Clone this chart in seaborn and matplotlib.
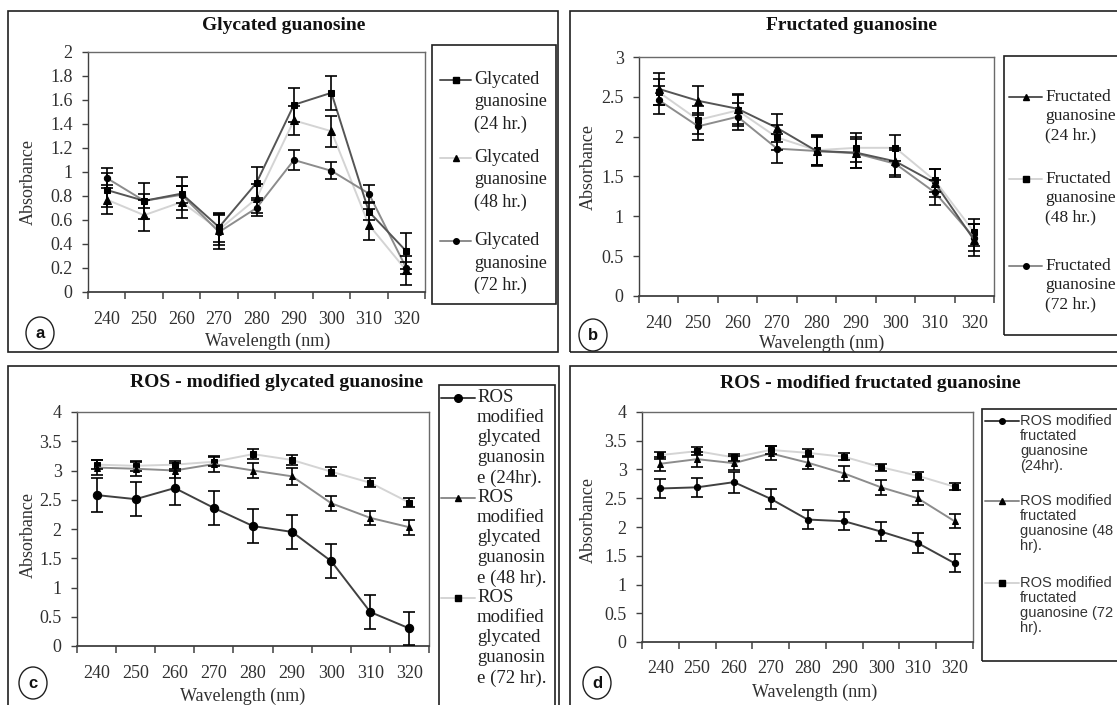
import numpy as np
import pandas as pd
import matplotlib
matplotlib.use("Agg")
import matplotlib.pyplot as plt
import seaborn as sns
from matplotlib.patches import Rectangle, Ellipse
from matplotlib.lines import Line2D

# ---------------- data ----------------
wavelengths = [240, 250, 260, 270, 280, 290, 300, 310, 320]

glyc_24 = [0.85, 0.76, 0.82, 0.54, 0.91, 1.56, 1.66, 0.67, 0.34]
glyc_24_err = [0.14, 0.15, 0.14, 0.12, 0.13, 0.14, 0.14, 0.07, 0.15]
glyc_48 = [0.77, 0.64, 0.75, 0.52, 0.78, 1.43, 1.34, 0.56, 0.18]
glyc_48_err = [0.12, 0.13, 0.13, 0.13, 0.12, 0.12, 0.13, 0.13, 0.12]
glyc_72 = [0.95, 0.76, 0.81, 0.50, 0.70, 1.10, 1.01, 0.82, 0.20]
glyc_72_err = [0.08, 0.06, 0.07, 0.14, 0.07, 0.08, 0.07, 0.07, 0.05]

fruc_24 = [2.60, 2.45, 2.35, 2.11, 1.82, 1.80, 1.69, 1.42, 0.70]
fruc_24_err = [0.20, 0.18, 0.19, 0.18, 0.19, 0.19, 0.17, 0.18, 0.20]
fruc_48 = [2.56, 2.21, 2.33, 1.99, 1.83, 1.86, 1.86, 1.45, 0.80]
fruc_48_err = [0.16, 0.18, 0.19, 0.16, 0.19, 0.18, 0.16, 0.15, 0.17]
fruc_72 = [2.46, 2.13, 2.25, 1.85, 1.82, 1.79, 1.66, 1.30, 0.73]
fruc_72_err = [0.17, 0.17, 0.17, 0.18, 0.17, 0.18, 0.17, 0.16, 0.17]

ros_glyc_24 = [2.58, 2.51, 2.70, 2.36, 2.05, 1.95, 1.45, 0.58, 0.30]
ros_glyc_24_err = [0.29, 0.29, 0.29, 0.29, 0.29, 0.29, 0.29, 0.29, 0.28]
ros_glyc_48 = [3.05, 3.03, 3.00, 3.11, 3.00, 2.90, 2.44, 2.19, 2.03]
ros_glyc_48_err = [0.13, 0.12, 0.13, 0.13, 0.13, 0.14, 0.13, 0.12, 0.13]
ros_glyc_72 = [3.10, 3.08, 3.10, 3.15, 3.28, 3.18, 2.98, 2.79, 2.45]
ros_glyc_72_err = [0.08, 0.08, 0.07, 0.08, 0.08, 0.08, 0.08, 0.08, 0.08]

ros_fruc_24 = [2.67, 2.69, 2.78, 2.49, 2.13, 2.10, 1.92, 1.72, 1.37]
ros_fruc_24_err = [0.16, 0.17, 0.18, 0.17, 0.16, 0.16, 0.16, 0.17, 0.16]
ros_fruc_48 = [3.10, 3.18, 3.11, 3.28, 3.12, 2.93, 2.69, 2.50, 2.10]
ros_fruc_48_err = [0.12, 0.13, 0.12, 0.12, 0.12, 0.13, 0.13, 0.12, 0.12]
ros_fruc_72 = [3.25, 3.32, 3.21, 3.34, 3.29, 3.22, 3.04, 2.89, 2.70]
ros_fruc_72_err = [0.06, 0.07, 0.06, 0.07, 0.07, 0.06, 0.06, 0.07, 0.06]

titles = ["Glycated guanosine", "Fructated guanosine",
          "ROS - modified glycated guanosine", "ROS - modified fructated guanosine"]
panel_letters = ["a", "b", "c", "d"]

# ---------------- style ----------------
sns.set_style("white")
plt.rcParams["font.family"] = ["Liberation Serif", "DejaVu Serif"]

W, H = 1117, 705
fig = plt.figure(figsize=(W / 100, H / 100), dpi=100)
fig.patch.set_facecolor("white")

DARK = "#404040"
MID = "#8c8c8c"
LIGHT = "#d4d4d4"
TXT = "#303030"


def fx(x):
    return x / W


def fy(y):
    return 1 - y / H


def add_ax(x0, y0, x1, y1):
    return fig.add_axes([fx(x0), fy(y1), (x1 - x0) / W, (y1 - y0) / H])


def box(x0, y0, x1, y1, lw=1.2):
    fig.add_artist(Rectangle((fx(x0), fy(y1)), (x1 - x0) / W, (y1 - y0) / H,
                             transform=fig.transFigure, fill=False,
                             edgecolor="#202020", linewidth=lw, clip_on=False))


def draw_series(ax, vals, errs, color, marker, ms):
    pos = np.arange(len(wavelengths))
    df = pd.DataFrame({"pos": pos, "val": vals})
    sns.lineplot(data=df, x="pos", y="val", ax=ax, color=color, linewidth=1.4,
                 marker=marker, markersize=ms, markerfacecolor="black",
                 markeredgecolor="black", legend=False, zorder=3)
    ax.errorbar(pos, vals, yerr=errs, fmt="none", ecolor="black",
                elinewidth=1.2, capsize=4.5, capthick=1.2, zorder=4)


def style_axes(ax, rect, ymax, ystep, ylabels, title, title_c, xlab_c, ylab_c,
               xlab_pad):
    x0, y0, x1, y1 = rect
    n = len(wavelengths)
    ax.set_xlim(-0.5, n - 0.5)
    ax.set_ylim(0, ymax)
    ax.set_xticks(np.arange(-0.5, n, 1.0))
    ax.set_xticklabels([])
    ax.set_xticks(np.arange(n), minor=True)
    ax.set_xticklabels([str(w) for w in wavelengths], minor=True)
    ax.tick_params(axis="x", which="major", direction="out", length=5,
                   width=1.1, color=DARK, bottom=True)
    ax.tick_params(axis="x", which="minor", length=0, pad=xlab_pad,
                   labelsize=13, labelcolor=TXT)
    ax.set_yticks(np.arange(0, ymax + 1e-9, ystep))
    ax.set_yticklabels(ylabels)
    ax.tick_params(axis="y", direction="out", length=4, width=1.0,
                   color=DARK, left=True, pad=7, labelsize=13, labelcolor=TXT)
    for s in ax.spines.values():
        s.set_color("#6a6a6a")
        s.set_linewidth(1.0)
    ax.spines["left"].set_color(DARK)
    ax.spines["bottom"].set_color(DARK)
    ax.spines["bottom"].set_linewidth(1.3)
    ax.grid(False)
    ax.set_xlabel("Wavelength (nm)", fontsize=13, color=TXT)
    ax.xaxis.set_label_coords((xlab_c[0] - x0) / (x1 - x0),
                              (y1 - xlab_c[1]) / (y1 - y0))
    ax.xaxis.label.set_verticalalignment("center")
    ax.set_ylabel("Absorbance", fontsize=13, color=TXT)
    ax.yaxis.set_label_coords((ylab_c[0] - x0) / (x1 - x0),
                              (y1 - ylab_c[1]) / (y1 - y0))
    ax.yaxis.label.set_verticalalignment("center")
    ax.set_title(title, fontsize=14, fontweight="bold", color="#111111",
                 x=(title_c[0] - x0) / (x1 - x0),
                 y=(y1 - title_c[1]) / (y1 - y0), va="center")


def letter(cx, cy, t):
    fig.add_artist(Ellipse((fx(cx), fy(cy)), 28 / W, 32 / H,
                           transform=fig.transFigure, fill=False,
                           edgecolor="#202020", linewidth=1.0))
    fig.text(fx(cx), fy(cy), t, ha="center", va="center", fontsize=12,
             fontweight="bold", family=["Liberation Sans", "DejaVu Sans"],
             color="#111111")


def legend(bx, handle_x, text_x, entries, fontsize, family, color="#202020"):
    box(*bx)
    for lines, yl, col, mk, ms in entries:
        fig.add_artist(Line2D([fx(handle_x[0]), fx(handle_x[1])],
                              [fy(yl[0]), fy(yl[0])], transform=fig.transFigure,
                              color=col, linewidth=1.4))
        fig.add_artist(Line2D([fx((handle_x[0] + handle_x[1]) / 2)], [fy(yl[0])],
                              transform=fig.transFigure, marker=mk,
                              markersize=ms, color="black", linestyle="none"))
        for ln, y in zip(lines, yl):
            fig.text(fx(text_x), fy(y), ln, ha="left", va="center",
                     fontsize=fontsize, family=family, color=color)


# ---------------- panel boxes ----------------
box(8, 11, 558, 352)
box(570, 11, 1125, 352)
box(8, 366, 559, 712)
box(570, 366, 1125, 712)

# ---------------- panel a ----------------
ra = (88, 52, 425, 292)
ax = add_ax(*ra)
draw_series(ax, glyc_48, glyc_48_err, LIGHT, "^", 5.5)
draw_series(ax, glyc_72, glyc_72_err, MID, "o", 4.5)
draw_series(ax, glyc_24, glyc_24_err, "#555555", "s", 5)
style_axes(ax, ra, 2, 0.2, ["0", "0.2", "0.4", "0.6", "0.8", "1", "1.2", "1.4",
                            "1.6", "1.8", "2"],
           titles[0], (284, 34), (268, 341), (28, 182), 13.5)
legend((432, 45, 556, 304), (440, 471), 474,
       [(["Glycated", "guanosine", "(24 hr.)"], [80, 102, 124], "#555555", "s", 4.5),
        (["Glycated", "guanosine", "(48 hr.)"], [158, 180, 202], LIGHT, "^", 5),
        (["Glycated", "guanosine", "(72 hr.)"], [241, 263, 285], MID, "o", 4)],
       13, ["Liberation Serif"])
letter(40, 333, panel_letters[0])

# ---------------- panel b ----------------
rb = (639, 57, 994, 296)
ax = add_ax(*rb)
draw_series(ax, fruc_48, fruc_48_err, LIGHT, "s", 5)
draw_series(ax, fruc_72, fruc_72_err, MID, "o", 4.5)
draw_series(ax, fruc_24, fruc_24_err, "#555555", "^", 5.5)
style_axes(ax, rb, 3, 0.5, ["0", "0.5", "1", "1.5", "2", "2.5", "3"],
           titles[1], (851, 34), (822, 343), (588, 167), 14)
legend((1004, 56, 1125, 335), (1009, 1042), 1045,
       [(["Fructated", "guanosine", "(24 hr.)"], [97, 116, 135], "#555555", "^", 5),
        (["Fructated", "guanosine", "(48 hr.)"], [179, 198, 217], LIGHT, "s", 4.5),
        (["Fructated", "guanosine", "(72 hr.)"], [266, 285, 304], MID, "o", 4)],
       12.5, ["Liberation Serif"])
letter(593, 335, panel_letters[1])

# ---------------- panel c ----------------
rc = (77, 412, 429, 646)
ax = add_ax(*rc)
draw_series(ax, ros_glyc_72, ros_glyc_72_err, LIGHT, "s", 5)
draw_series(ax, ros_glyc_48, ros_glyc_48_err, MID, "^", 5)
draw_series(ax, ros_glyc_24, ros_glyc_24_err, DARK, "o", 6)
style_axes(ax, rc, 4, 0.5, ["0", "0.5", "1", "1.5", "2", "2.5", "3", "3.5", "4"],
           titles[2], (277, 391), (243, 696), (28, 535), 14)
yc = [398 + 20 * k for k in range(15)]
legend((439, 385, 555, 720), (441, 475), 477,
       [(["ROS", "modified", "glycated", "guanosin", "e (24hr)."], yc[0:5], DARK, "o", 5.5),
        (["ROS", "modified", "glycated", "guanosin", "e (48 hr)."], yc[5:10], MID, "^", 4.5),
        (["ROS", "modified", "glycated", "guanosin", "e (72 hr)."], yc[10:15], LIGHT, "s", 4.5)],
       13.5, ["Liberation Serif"])
letter(33, 683, panel_letters[2])

# ---------------- panel d ----------------
rd = (642, 412, 973, 642)
ax = add_ax(*rd)
draw_series(ax, ros_fruc_72, ros_fruc_72_err, LIGHT, "s", 5)
draw_series(ax, ros_fruc_48, ros_fruc_48_err, MID, "^", 5)
draw_series(ax, ros_fruc_24, ros_fruc_24_err, DARK, "o", 4.5)
style_axes(ax, rd, 4, 0.5, ["0", "0.5", "1", "1.5", "2", "2.5", "3", "3.5", "4"],
           titles[3], (870, 392), (815, 692), (588, 520), 13)
legend((982, 409, 1125, 661), (985, 1019), 1020,
       [(["ROS modified", "fructated", "guanosine", "(24hr)."], [421, 436, 451, 466], DARK, "o", 4),
        (["ROS modified", "fructated", "guanosine (48", "hr)."], [501, 516, 531, 546], MID, "^", 4.5),
        (["ROS modified", "fructated", "guanosine (72", "hr)."], [583, 598, 613, 628], LIGHT, "s", 4)],
       10.5, ["Liberation Sans", "DejaVu Sans"], color="#333333")
letter(597, 683, panel_letters[3])

fig.savefig("out.png", dpi=100, facecolor="white")
